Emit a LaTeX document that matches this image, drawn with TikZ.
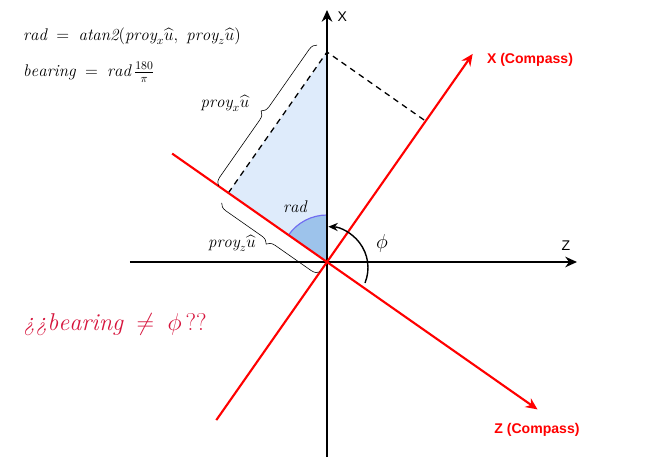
\documentclass[tikz,border=0pt]{standalone}
\usepackage{fontspec}
\newfontfamily\labelfont{Liberation Sans}
\usepackage{amsmath}
\usetikzlibrary{arrows.meta,calc,decorations.pathreplacing}

\definecolor{compassred}{RGB}{255,0,0}
\definecolor{trifill}{RGB}{222,235,251}
\definecolor{secfill}{RGB}{157,195,235}
\definecolor{secline}{RGB}{112,108,240}
\definecolor{questred}{RGB}{214,20,60}

\begin{document}
\begin{tikzpicture}[x=0.03cm,y=0.03cm,
  axis/.style={line width=1.6pt,-{Stealth[length=10pt,width=9pt]}},
  compass/.style={line width=1.8pt,compassred,-{Stealth[length=10pt,width=9pt]}},
  proj/.style={line width=1.1pt,dash pattern=on 5pt off 4pt},
  brc/.style={decorate,decoration={brace,amplitude=7pt},line width=0.5pt},
  lbl/.style={font=\labelfont\large},
  cmp/.style={font=\labelfont\bfseries\large,text=compassred},
  mathlbl/.style={font=\Large}]
  \useasboundingbox (-327,-207) rectangle (334,262);
  % points
  \coordinate (O) at (0,0);
  \coordinate (xs) at (235:193);
  \coordinate (xe) at (55:254);
  \coordinate (zs) at (145:189);
  \coordinate (ze) at (-35:257);
  \coordinate (P) at (0,210);
  \coordinate (Q) at ($(O)!(P)!(xe)$);
  \coordinate (R) at ($(O)!(P)!(zs)$);

  % projection triangle and angle
  \fill[trifill] (O) -- (R) -- (P) -- cycle;
  \fill[secfill] (O) -- (145:47) arc[start angle=145, end angle=90, radius=47] -- cycle;
  \draw[secline, line width=1pt] (145:47) arc[start angle=145, end angle=90, radius=47];
  \draw[proj] (R) -- (P) -- (Q);

  % axes
  \draw[axis] (0,-195) -- (0,252) node[lbl, right=5pt, pos=0.985] (xlab) {X};
  \draw[axis] (-197,0) -- (250,0) node[lbl, above=6pt, pos=0.975] (zlab) {Z};

  % compass axes
  \draw[compass] (xs) -- (xe);
  \draw[compass] (zs) -- (ze);
  \node[cmp] (xcmp) at (203,202) {X (Compass)};
  \node[cmp] (zcmp) at (210,-168) {Z (Compass)};

  % braces
  \draw[brc] ($(R)+(145:12)$) -- ($(P)+(145:12)$);
  \draw[brc] ($(O)+(235:12)$) -- ($(R)+(235:12)$);
  \node[mathlbl] (projx) at (-102,159) {$\mathit{proy}_x\widehat{u}$};
  \node[mathlbl] (projz) at (-95,19) {$\mathit{proy}_z\widehat{u}$};
  \node[mathlbl] (radlab) at (-32,55) {$\mathit{rad}$};

  % phi
  \draw[line width=1.2pt,-{Stealth[length=8pt,width=7pt]}] (38,-21) arc[start angle=-22, end angle=88, radius=41];
  \node[font=\LARGE] (philab) at (55,19) {$\phi$};

  % formulas
  \node[anchor=west, mathlbl] (radeq) at (-308,226)
    {$\mathit{rad} \;=\; \mathit{atan2}(\mathit{proy}_x\widehat{u},\ \mathit{proy}_z\widehat{u})$};
  \node[anchor=west, mathlbl] (beareq) at (-308,190)
    {$\mathit{bearing} \;=\; \mathit{rad}\,\tfrac{180}{\pi}$};
  \node[anchor=west, font=\huge, text=questred] (quest) at (-308,-63)
    {\textit{¿¿}$\mathit{bearing} \;\neq\; \phi$\,??};
\end{tikzpicture}
\end{document}
